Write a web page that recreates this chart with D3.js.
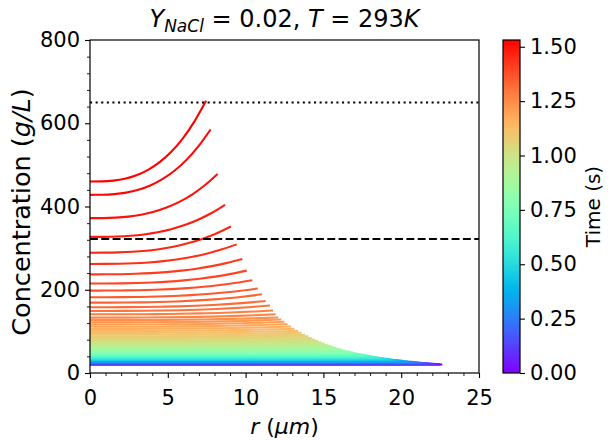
<!DOCTYPE html>
<html>
<head>
<meta charset="utf-8">
<script src="https://cdn.jsdelivr.net/npm/d3@7"></script>
<style>
  body { margin: 0; background: #fff; }
  text { font-family: "DejaVu Sans", sans-serif; fill: #000; }
</style>
</head>
<body>
<svg id="chart" width="608" height="441"></svg>
<script>
// ---------------- data ----------------
const times = [0.00,0.02,0.04,0.06,0.08,0.10,0.12,0.14,0.16,0.18,
  0.20,0.22,0.24,0.26,0.28,0.30,0.32,0.34,0.36,0.38,
  0.40,0.42,0.44,0.46,0.48,0.50,0.52,0.54,0.56,0.58,
  0.60,0.62,0.64,0.66,0.68,0.70,0.72,0.74,0.76,0.78,
  0.80,0.82,0.84,0.86,0.88,0.90,0.92,0.94,0.96,0.98,
  1.00,1.02,1.04,1.06,1.08,1.10,1.12,1.14,1.16,1.18,
  1.20,1.22,1.24,1.26,1.28,1.30,1.32,1.34,1.36,1.38,
  1.40,1.42,1.44,1.46,1.48,1.50,1.52,1.53];
// droplet radius (um) at each time = end of each curve
const radius = [22.64,22.51,22.38,22.24,22.11,21.97,21.84,21.70,21.56,21.42,
  21.29,21.15,21.00,20.86,20.72,20.57,20.43,20.28,20.14,19.99,
  19.84,19.69,19.53,19.38,19.23,19.07,18.92,18.76,18.60,18.44,
  18.28,18.11,17.95,17.78,17.61,17.44,17.27,17.10,16.92,16.75,
  16.57,16.39,16.20,16.02,15.83,15.64,15.45,15.26,15.06,14.86,
  14.66,14.46,14.25,14.04,13.82,13.60,13.37,13.14,12.92,12.70,
  12.50,12.30,12.10,11.93,11.76,11.57,11.29,11.05,10.78,10.43,
  10.07,9.79,9.43,9.06,8.68,8.20,7.75,7.46];
// concentration at the centre r = 0 (g/L)
const centerConc = [20.4,20.8,21.1,21.5,21.9,22.3,22.7,23.1,23.6,24.0,
  24.5,25.0,25.5,26.0,26.6,27.1,27.7,28.3,28.9,29.6,
  30.2,30.9,31.7,32.4,33.2,34.0,34.8,35.7,36.6,37.6,
  38.6,39.7,40.8,41.9,43.1,44.4,45.7,47.1,48.6,50.1,
  51.7,53.4,55.2,57.1,59.1,61.0,63.3,65.7,68.2,71.0,
  73.9,77.0,80.4,84.0,87.6,91.9,96.3,101.0,106.0,111.0,
  116.3,121.6,127,133,141,149,158,169,182,198,
  215,237,262,289,327,372,428,460];
// concentration at the droplet surface r = R (g/L)
const edgeConc = [20.4,20.8,21.2,21.5,21.9,22.3,22.8,23.2,23.6,24.1,
  24.6,25.1,25.6,26.1,26.7,27.2,27.8,28.4,29.1,29.7,
  30.4,31.1,31.8,32.6,33.4,34.2,35.1,36.0,36.9,37.9,
  38.9,40.0,41.1,42.3,43.5,44.8,46.2,47.6,49.1,50.7,
  52.4,54.2,56.1,58.1,60.5,63.0,65.5,68.1,70.9,73.9,
  77.1,80.5,84.2,88.2,92.0,96.6,101.3,106.4,111.8,117.4,
  123.0,128.5,133.5,141,150,162,173,189,203,223,
  246,274,309,352,404,478,585,654];
// shape of each radial profile: fraction of R, and fraction of the centre-to-edge rise
const profileR    = [0, 0.1, 0.2, 0.3, 0.4, 0.5, 0.6, 0.7, 0.8, 0.9, 1.0];
const profileRise = [0, 0.0016, 0.011, 0.034, 0.077, 0.144, 0.24, 0.368, 0.535, 0.745, 1.0];

const solubilityLevel = 322;   // dashed line
const critLevel = 650;         // dotted line
const xTicks = [0, 5, 10, 15, 20, 25];
const yTicks = [0, 200, 400, 600, 800];
const cbTicks = [0, 0.25, 0.5, 0.75, 1.0, 1.25, 1.5];
const timeMax = 1.531;

// ---------------- drawing ----------------
const svg = d3.select("#chart");
svg.append("rect").attr("width", 608).attr("height", 441).attr("fill", "#fff");

const L = 90, R = 479, T = 40, B = 373;
const x = d3.scaleLinear().domain([0, 25]).range([L, R]);
const y = d3.scaleLinear().domain([0, 800]).range([B, T]);

// matplotlib "rainbow" colormap
function rainbow(v) {
  v = Math.max(0, Math.min(1, v));
  const r = Math.min(1, Math.abs(2 * v - 0.5));
  const g = Math.max(0, Math.min(1, Math.sin(Math.PI * v)));
  const b = Math.max(0, Math.min(1, Math.cos(Math.PI * v / 2)));
  return d3.rgb(r * 255, g * 255, b * 255).formatHex();
}
const cScale = d3.scaleLinear().domain([0, timeMax]).range([0, 1]);

const line = d3.line().x(d => x(d[0])).y(d => y(d[1])).curve(d3.curveMonotoneX);

const curves = times.map((t, i) => ({
  t,
  pts: profileR.map((f, k) => [f * radius[i], centerConc[i] + (edgeConc[i] - centerConc[i]) * profileRise[k]])
}));

svg.append("g").selectAll("path").data(curves).join("path")
  .attr("d", d => line(d.pts))
  .attr("fill", "none")
  .attr("stroke", d => rainbow(cScale(d.t)))
  .attr("stroke-width", 2.1)
  .attr("stroke-linecap", "butt");

// reference lines
svg.append("line").attr("x1", L).attr("x2", R)
  .attr("y1", y(solubilityLevel)).attr("y2", y(solubilityLevel))
  .attr("stroke", "#000").attr("stroke-width", 2.1).attr("stroke-dasharray", "7.9,3.4");
svg.append("line").attr("x1", L).attr("x2", R)
  .attr("y1", y(critLevel)).attr("y2", y(critLevel))
  .attr("stroke", "#000").attr("stroke-width", 2.1).attr("stroke-dasharray", "2.1,3.5");

// axes
const fs = 21;
const gx = svg.append("g").attr("transform", `translate(0,${B})`)
  .call(d3.axisBottom(x).tickValues(xTicks).tickSize(5).tickPadding(12).tickFormat(d3.format("d")));
const gxm = svg.append("g").attr("transform", `translate(0,${B})`)
  .call(d3.axisBottom(x).tickValues(d3.range(0, 26, 1).filter(v => v % 5 !== 0)).tickSize(3).tickFormat(""));
const gy = svg.append("g").attr("transform", `translate(${L},0)`)
  .call(d3.axisLeft(y).tickValues(yTicks).tickSize(5).tickPadding(5).tickFormat(d3.format("d")));
const gym = svg.append("g").attr("transform", `translate(${L},0)`)
  .call(d3.axisLeft(y).tickValues(d3.range(0, 801, 40).filter(v => v % 200 !== 0)).tickSize(3).tickFormat(""));
[gx, gxm, gy, gym].forEach(g => {
  g.select(".domain").remove();
  g.selectAll("line").attr("stroke", "#000").attr("stroke-width", 1.1);
  g.selectAll("text").attr("font-size", fs).attr("font-family", "DejaVu Sans").attr("fill", "#000");
});
gxm.selectAll("line").attr("stroke-width", 0.9);
gym.selectAll("line").attr("stroke-width", 0.9);

// frame
svg.append("rect").attr("x", L).attr("y", T).attr("width", R - L).attr("height", B - T)
  .attr("fill", "none").attr("stroke", "#000").attr("stroke-width", 1.2);

// title
const title = svg.append("text").attr("x", (L + R) / 2).attr("y", 27)
  .attr("text-anchor", "middle").attr("font-size", 24);
title.append("tspan").attr("font-style", "italic").text("Y");
title.append("tspan").attr("font-style", "italic").attr("font-size", 17).attr("dy", 5).text("NaCl");
title.append("tspan").attr("dy", -5).text(" = 0.02, ");
title.append("tspan").attr("font-style", "italic").text("T");
title.append("tspan").text(" = 293");
title.append("tspan").attr("font-style", "italic").text("K");

// x label
const xl = svg.append("text").attr("x", (L + R) / 2).attr("y", 434)
  .attr("text-anchor", "middle").attr("font-size", 22);
xl.append("tspan").attr("font-style", "italic").text("r");
xl.append("tspan").text(" (");
xl.append("tspan").attr("font-style", "italic").text("μm");
xl.append("tspan").text(")");

// y label
const yl = svg.append("text").attr("transform", `translate(30,212) rotate(-90)`)
  .attr("text-anchor", "middle").attr("font-size", 25.5);
yl.append("tspan").text("Concentration (");
yl.append("tspan").attr("font-style", "italic").text("g/L");
yl.append("tspan").text(")");

// colorbar
const cbL = 503, cbR = 520;
const cy = d3.scaleLinear().domain([0, timeMax]).range([B, T]);
const defs = svg.append("defs");
const grad = defs.append("linearGradient").attr("id", "cbgrad")
  .attr("x1", 0).attr("y1", 1).attr("x2", 0).attr("y2", 0);
d3.range(0, 1.0001, 0.02).forEach(v => {
  grad.append("stop").attr("offset", v).attr("stop-color", rainbow(v));
});
svg.append("rect").attr("x", cbL).attr("y", T).attr("width", cbR - cbL).attr("height", B - T)
  .attr("fill", "url(#cbgrad)").attr("stroke", "#000").attr("stroke-width", 1.2);
const gc = svg.append("g").attr("transform", `translate(${cbR},0)`)
  .call(d3.axisRight(cy).tickValues(cbTicks).tickSize(5).tickPadding(5).tickFormat(d3.format(".2f")));
gc.select(".domain").remove();
gc.selectAll("line").attr("stroke", "#000").attr("stroke-width", 1.1);
gc.selectAll("text").attr("font-size", fs).attr("font-family", "DejaVu Sans").attr("fill", "#000");

svg.append("text").attr("transform", `translate(600,${(T + B) / 2}) rotate(-90)`)
  .attr("text-anchor", "middle").attr("font-size", 20).text("Time (s)");
</script>
</body>
</html>
